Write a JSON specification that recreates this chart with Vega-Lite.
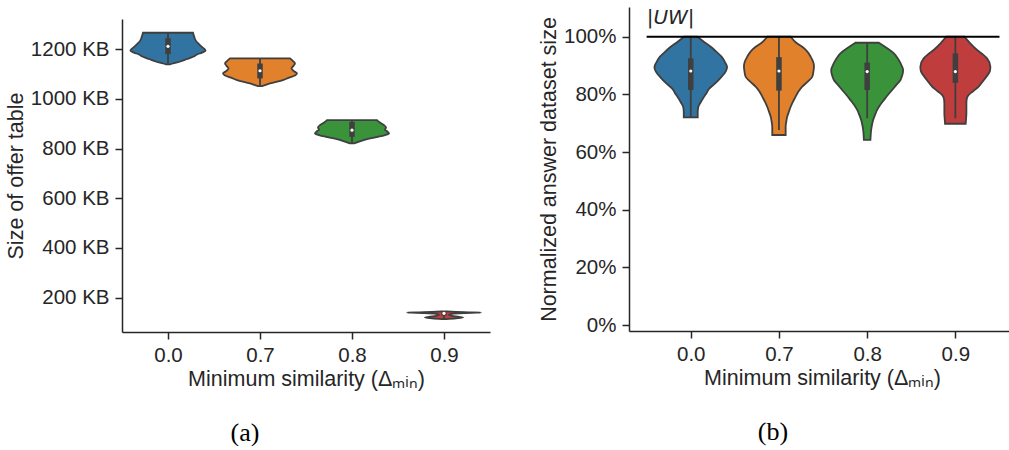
{
  "$schema": "https://vega.github.io/schema/vega-lite/v6.json",
  "padding": {"left": 5, "top": 7, "right": 0, "bottom": 0},
  "config": {
    "view": {"stroke": null},
    "font": "Liberation Sans",
    "axis": {
      "grid": false,
      "domainColor": "#262626", "domainWidth": 1.5,
      "tickColor": "#262626", "tickWidth": 1.5, "tickSize": 7,
      "labelColor": "#262626", "labelFontSize": 20.5, "labelFont": "Liberation Sans", "labelPadding": 6,
      "titleColor": "#262626", "titleFontSize": 21.5, "titleFont": "Liberation Sans", "titleFontWeight": "normal", "titlePadding": 3
    },
    "title": {"font": "Liberation Serif", "fontSize": 26, "fontWeight": "normal", "color": "#000000"}
  },
  "datasets": {
    "lv": [
      {"g":0,"v":1265.6,"w":0.272},{"g":0,"v":1252,"w":0.283},{"g":0,"v":1236,"w":0.299},{"g":0,"v":1224,"w":0.326},{"g":0,"v":1212,"w":0.359},{"g":0,"v":1202,"w":0.391},{"g":0,"v":1193,"w":0.408},{"g":0,"v":1186,"w":0.370},{"g":0,"v":1178,"w":0.315},{"g":0,"v":1169,"w":0.272},{"g":0,"v":1160,"w":0.207},{"g":0,"v":1149,"w":0.126},{"g":0,"v":1142,"w":0.054},{"g":0,"v":1138.5,"w":0.022},
      {"g":1,"v":1162.6,"w":0.326},{"g":1,"v":1151.7,"w":0.359},{"g":1,"v":1142.5,"w":0.380},{"g":1,"v":1132.4,"w":0.364},{"g":1,"v":1122.4,"w":0.342},{"g":1,"v":1112.3,"w":0.364},{"g":1,"v":1102.3,"w":0.402},{"g":1,"v":1093.4,"w":0.380},{"g":1,"v":1085.4,"w":0.315},{"g":1,"v":1075.3,"w":0.25},{"g":1,"v":1062,"w":0.109},{"g":1,"v":1055.2,"w":0.054},{"g":1,"v":1051.2,"w":0.022},
      {"g":2,"v":914.4,"w":0.272},{"g":2,"v":904.4,"w":0.304},{"g":2,"v":894.3,"w":0.348},{"g":2,"v":884.3,"w":0.370},{"g":2,"v":876.2,"w":0.359},{"g":2,"v":868.2,"w":0.386},{"g":2,"v":860.9,"w":0.402},{"g":2,"v":854.1,"w":0.359},{"g":2,"v":847.3,"w":0.283},{"g":2,"v":840.8,"w":0.196},{"g":2,"v":832,"w":0.109},{"g":2,"v":824.7,"w":0.054},{"g":2,"v":820.7,"w":0.022},
      {"g":3,"v":145,"w":0.033},{"g":3,"v":142,"w":0.217},{"g":3,"v":140,"w":0.402},{"g":3,"v":138,"w":0.217},{"g":3,"v":135,"w":0.087},{"g":3,"v":131,"w":0.054},{"g":3,"v":127,"w":0.087},{"g":3,"v":123,"w":0.163},{"g":3,"v":120,"w":0.207},{"g":3,"v":117,"w":0.130},{"g":3,"v":114,"w":0.022}
    ],
    "lb": [
      {"g":0,"lo":1142,"q1":1180,"med":1211,"q3":1244,"hi":1265},
      {"g":1,"lo":1051,"q1":1082,"med":1113,"q3":1142,"hi":1162},
      {"g":2,"lo":821,"q1":847,"med":874,"q3":907,"hi":914},
      {"g":3,"lo":114,"q1":128,"med":137,"q3":140,"hi":145}
    ],
    "rv": [
      {"g":0,"v":1.0,"w":0.076},{"g":0,"v":0.98,"w":0.159},{"g":0,"v":0.965,"w":0.227},{"g":0,"v":0.95,"w":0.283},{"g":0,"v":0.93,"w":0.351},{"g":0,"v":0.91,"w":0.391},{"g":0,"v":0.895,"w":0.412},{"g":0,"v":0.88,"w":0.397},{"g":0,"v":0.86,"w":0.346},{"g":0,"v":0.84,"w":0.283},{"g":0,"v":0.82,"w":0.210},{"g":0,"v":0.80,"w":0.170},{"g":0,"v":0.79,"w":0.147},{"g":0,"v":0.77,"w":0.108},{"g":0,"v":0.757,"w":0.086},{"g":0,"v":0.74,"w":0.079},{"g":0,"v":0.72,"w":0.079},
      {"g":1,"v":1.0,"w":0.133},{"g":1,"v":0.98,"w":0.193},{"g":1,"v":0.965,"w":0.264},{"g":1,"v":0.95,"w":0.317},{"g":1,"v":0.931,"w":0.359},{"g":1,"v":0.91,"w":0.391},{"g":1,"v":0.896,"w":0.397},{"g":1,"v":0.88,"w":0.391},{"g":1,"v":0.861,"w":0.378},{"g":1,"v":0.845,"w":0.329},{"g":1,"v":0.827,"w":0.264},{"g":1,"v":0.81,"w":0.221},{"g":1,"v":0.792,"w":0.189},{"g":1,"v":0.775,"w":0.159},{"g":1,"v":0.757,"w":0.133},{"g":1,"v":0.74,"w":0.113},{"g":1,"v":0.723,"w":0.094},{"g":1,"v":0.705,"w":0.083},{"g":1,"v":0.688,"w":0.076},{"g":1,"v":0.659,"w":0.076},
      {"g":2,"v":0.979,"w":0.133},{"g":2,"v":0.96,"w":0.227},{"g":2,"v":0.942,"w":0.303},{"g":2,"v":0.925,"w":0.346},{"g":2,"v":0.908,"w":0.378},{"g":2,"v":0.884,"w":0.408},{"g":2,"v":0.865,"w":0.397},{"g":2,"v":0.85,"w":0.378},{"g":2,"v":0.832,"w":0.329},{"g":2,"v":0.815,"w":0.283},{"g":2,"v":0.797,"w":0.232},{"g":2,"v":0.78,"w":0.189},{"g":2,"v":0.763,"w":0.147},{"g":2,"v":0.746,"w":0.113},{"g":2,"v":0.728,"w":0.088},{"g":2,"v":0.711,"w":0.068},{"g":2,"v":0.693,"w":0.054},{"g":2,"v":0.676,"w":0.045},{"g":2,"v":0.658,"w":0.040},{"g":2,"v":0.642,"w":0.037},
      {"g":3,"v":1.0,"w":0.102},{"g":3,"v":0.98,"w":0.159},{"g":3,"v":0.954,"w":0.246},{"g":3,"v":0.94,"w":0.306},{"g":3,"v":0.925,"w":0.359},{"g":3,"v":0.896,"w":0.397},{"g":3,"v":0.88,"w":0.391},{"g":3,"v":0.867,"w":0.366},{"g":3,"v":0.85,"w":0.323},{"g":3,"v":0.827,"w":0.264},{"g":3,"v":0.81,"w":0.198},{"g":3,"v":0.798,"w":0.151},{"g":3,"v":0.785,"w":0.130},{"g":3,"v":0.769,"w":0.125},{"g":3,"v":0.75,"w":0.125},{"g":3,"v":0.734,"w":0.125},{"g":3,"v":0.715,"w":0.121},{"g":3,"v":0.698,"w":0.117}
    ],
    "rb": [
      {"g":0,"lo":0.72,"q1":0.815,"med":0.881,"q3":0.925,"hi":1.0},
      {"g":1,"lo":0.676,"q1":0.813,"med":0.881,"q3":0.929,"hi":1.0},
      {"g":2,"lo":0.717,"q1":0.815,"med":0.879,"q3":0.91,"hi":0.979},
      {"g":3,"lo":0.717,"q1":0.84,"med":0.879,"q3":0.942,"hi":1.0}
    ],
    "hl": [{"a":-0.5,"b":3.5,"y":1.0,"t":"|UW|","ty":1.044}]
  },
  "spacing": 48,
  "hconcat": [
    {
      "spacing": 0,
      "vconcat": [
        {"width": 368, "height": 12, "data": {"values": [{}]}, "mark": {"type": "point", "opacity": 0}, "encoding": {}},
        {
          "width": 368, "height": 313,
          "title": {"text": "(a)", "orient": "bottom", "offset": 30, "dx": -61},
          "layer": [
            {
              "data": {"name": "lv"},
              "transform": [{"calculate": "datum.g - datum.w", "as": "xl"}, {"calculate": "datum.g + datum.w", "as": "xr"}],
              "mark": {"type": "area", "orient": "horizontal", "interpolate": "monotone", "stroke": "#3f3f3f", "strokeWidth": 1.8, "opacity": 1},
              "encoding": {
                "y": {"field": "v", "type": "quantitative", "scale": {"domain": [62, 1321], "nice": false, "zero": false}, "title": "Size of offer table", "axis": {"values": [200, 400, 600, 800, 1000, 1200], "labelExpr": "datum.value + ' KB'"}},
                "x": {"field": "xl", "type": "quantitative", "scale": {"domain": [-0.5, 3.5], "nice": false, "zero": false}, "title": "Minimum similarity (Δₘᵢₙ)", "axis": {"values": [0, 1, 2, 3], "labelExpr": "['0.0','0.7','0.8','0.9'][datum.value]"}},
                "x2": {"field": "xr"},
                "color": {"field": "g", "type": "nominal", "scale": {"domain": [0, 1, 2, 3], "range": ["#3274a1", "#e1812c", "#3a923a", "#c03d3e"]}, "legend": null}
              }
            },
            {
              "data": {"name": "lb"},
              "mark": {"type": "rule", "color": "#3f3f3f", "strokeWidth": 1.8},
              "encoding": {
                "x": {"field": "g", "type": "quantitative", "title": "Minimum similarity (Δₘᵢₙ)"},
                "y": {"field": "lo", "type": "quantitative", "title": "Size of offer table"},
                "y2": {"field": "hi"}
              }
            },
            {
              "data": {"name": "lb"},
              "mark": {"type": "rule", "color": "#3f3f3f", "strokeWidth": 5.5},
              "encoding": {
                "x": {"field": "g", "type": "quantitative", "title": "Minimum similarity (Δₘᵢₙ)"},
                "y": {"field": "q1", "type": "quantitative", "title": "Size of offer table"},
                "y2": {"field": "q3"}
              }
            },
            {
              "data": {"name": "lb"},
              "mark": {"type": "point", "filled": true, "color": "#ffffff", "opacity": 1, "size": 10},
              "encoding": {
                "x": {"field": "g", "type": "quantitative", "title": "Minimum similarity (Δₘᵢₙ)"},
                "y": {"field": "med", "type": "quantitative", "title": "Size of offer table"}
              }
            }
          ]
        }
      ]
    },
    {
      "width": 380, "height": 324,
      "title": {"text": "(b)", "orient": "bottom", "offset": 30, "dx": -46},
      "layer": [
        {
          "data": {"name": "rv"},
          "transform": [{"calculate": "datum.g - datum.w", "as": "xl"}, {"calculate": "datum.g + datum.w", "as": "xr"}],
          "mark": {"type": "area", "orient": "horizontal", "interpolate": "monotone", "stroke": "#3f3f3f", "strokeWidth": 1.8, "opacity": 1},
          "encoding": {
            "y": {"field": "v", "type": "quantitative", "scale": {"domain": [-0.0208, 1.103], "nice": false, "zero": false}, "title": "Normalized answer dataset size", "axis": {"values": [0, 0.2, 0.4, 0.6, 0.8, 1.0], "format": ".0%"}},
            "x": {"field": "xl", "type": "quantitative", "scale": {"domain": [-0.7, 3.608], "nice": false, "zero": false}, "title": "Minimum similarity (Δₘᵢₙ)", "axis": {"values": [0, 1, 2, 3], "labelExpr": "['0.0','0.7','0.8','0.9'][datum.value]", "titleX": 193}},
            "x2": {"field": "xr"},
            "color": {"field": "g", "type": "nominal", "scale": {"domain": [0, 1, 2, 3], "range": ["#3274a1", "#e1812c", "#3a923a", "#c03d3e"]}, "legend": null}
          }
        },
        {
          "data": {"name": "rb"},
          "mark": {"type": "rule", "color": "#3f3f3f", "strokeWidth": 1.8},
          "encoding": {
            "x": {"field": "g", "type": "quantitative", "title": "Minimum similarity (Δₘᵢₙ)"},
            "y": {"field": "lo", "type": "quantitative", "title": "Normalized answer dataset size"},
            "y2": {"field": "hi"}
          }
        },
        {
          "data": {"name": "rb"},
          "mark": {"type": "rule", "color": "#3f3f3f", "strokeWidth": 5.5},
          "encoding": {
            "x": {"field": "g", "type": "quantitative", "title": "Minimum similarity (Δₘᵢₙ)"},
            "y": {"field": "q1", "type": "quantitative", "title": "Normalized answer dataset size"},
            "y2": {"field": "q3"}
          }
        },
        {
          "data": {"name": "rb"},
          "mark": {"type": "point", "filled": true, "color": "#ffffff", "opacity": 1, "size": 10},
          "encoding": {
            "x": {"field": "g", "type": "quantitative", "title": "Minimum similarity (Δₘᵢₙ)"},
            "y": {"field": "med", "type": "quantitative", "title": "Normalized answer dataset size"}
          }
        },
        {
          "data": {"name": "hl"},
          "mark": {"type": "rule", "color": "#000000", "strokeWidth": 2},
          "encoding": {
            "x": {"field": "a", "type": "quantitative", "title": "Minimum similarity (Δₘᵢₙ)"},
            "x2": {"field": "b"},
            "y": {"field": "y", "type": "quantitative", "title": "Normalized answer dataset size"}
          }
        },
        {
          "data": {"name": "hl"},
          "mark": {"type": "text", "align": "left", "baseline": "alphabetic", "font": "DejaVu Sans", "fontStyle": "italic", "fontSize": 20, "color": "#262626"},
          "encoding": {
            "x": {"field": "a", "type": "quantitative", "title": "Minimum similarity (Δₘᵢₙ)"},
            "y": {"field": "ty", "type": "quantitative", "title": "Normalized answer dataset size"},
            "text": {"field": "t"}
          }
        }
      ]
    }
  ]
}
